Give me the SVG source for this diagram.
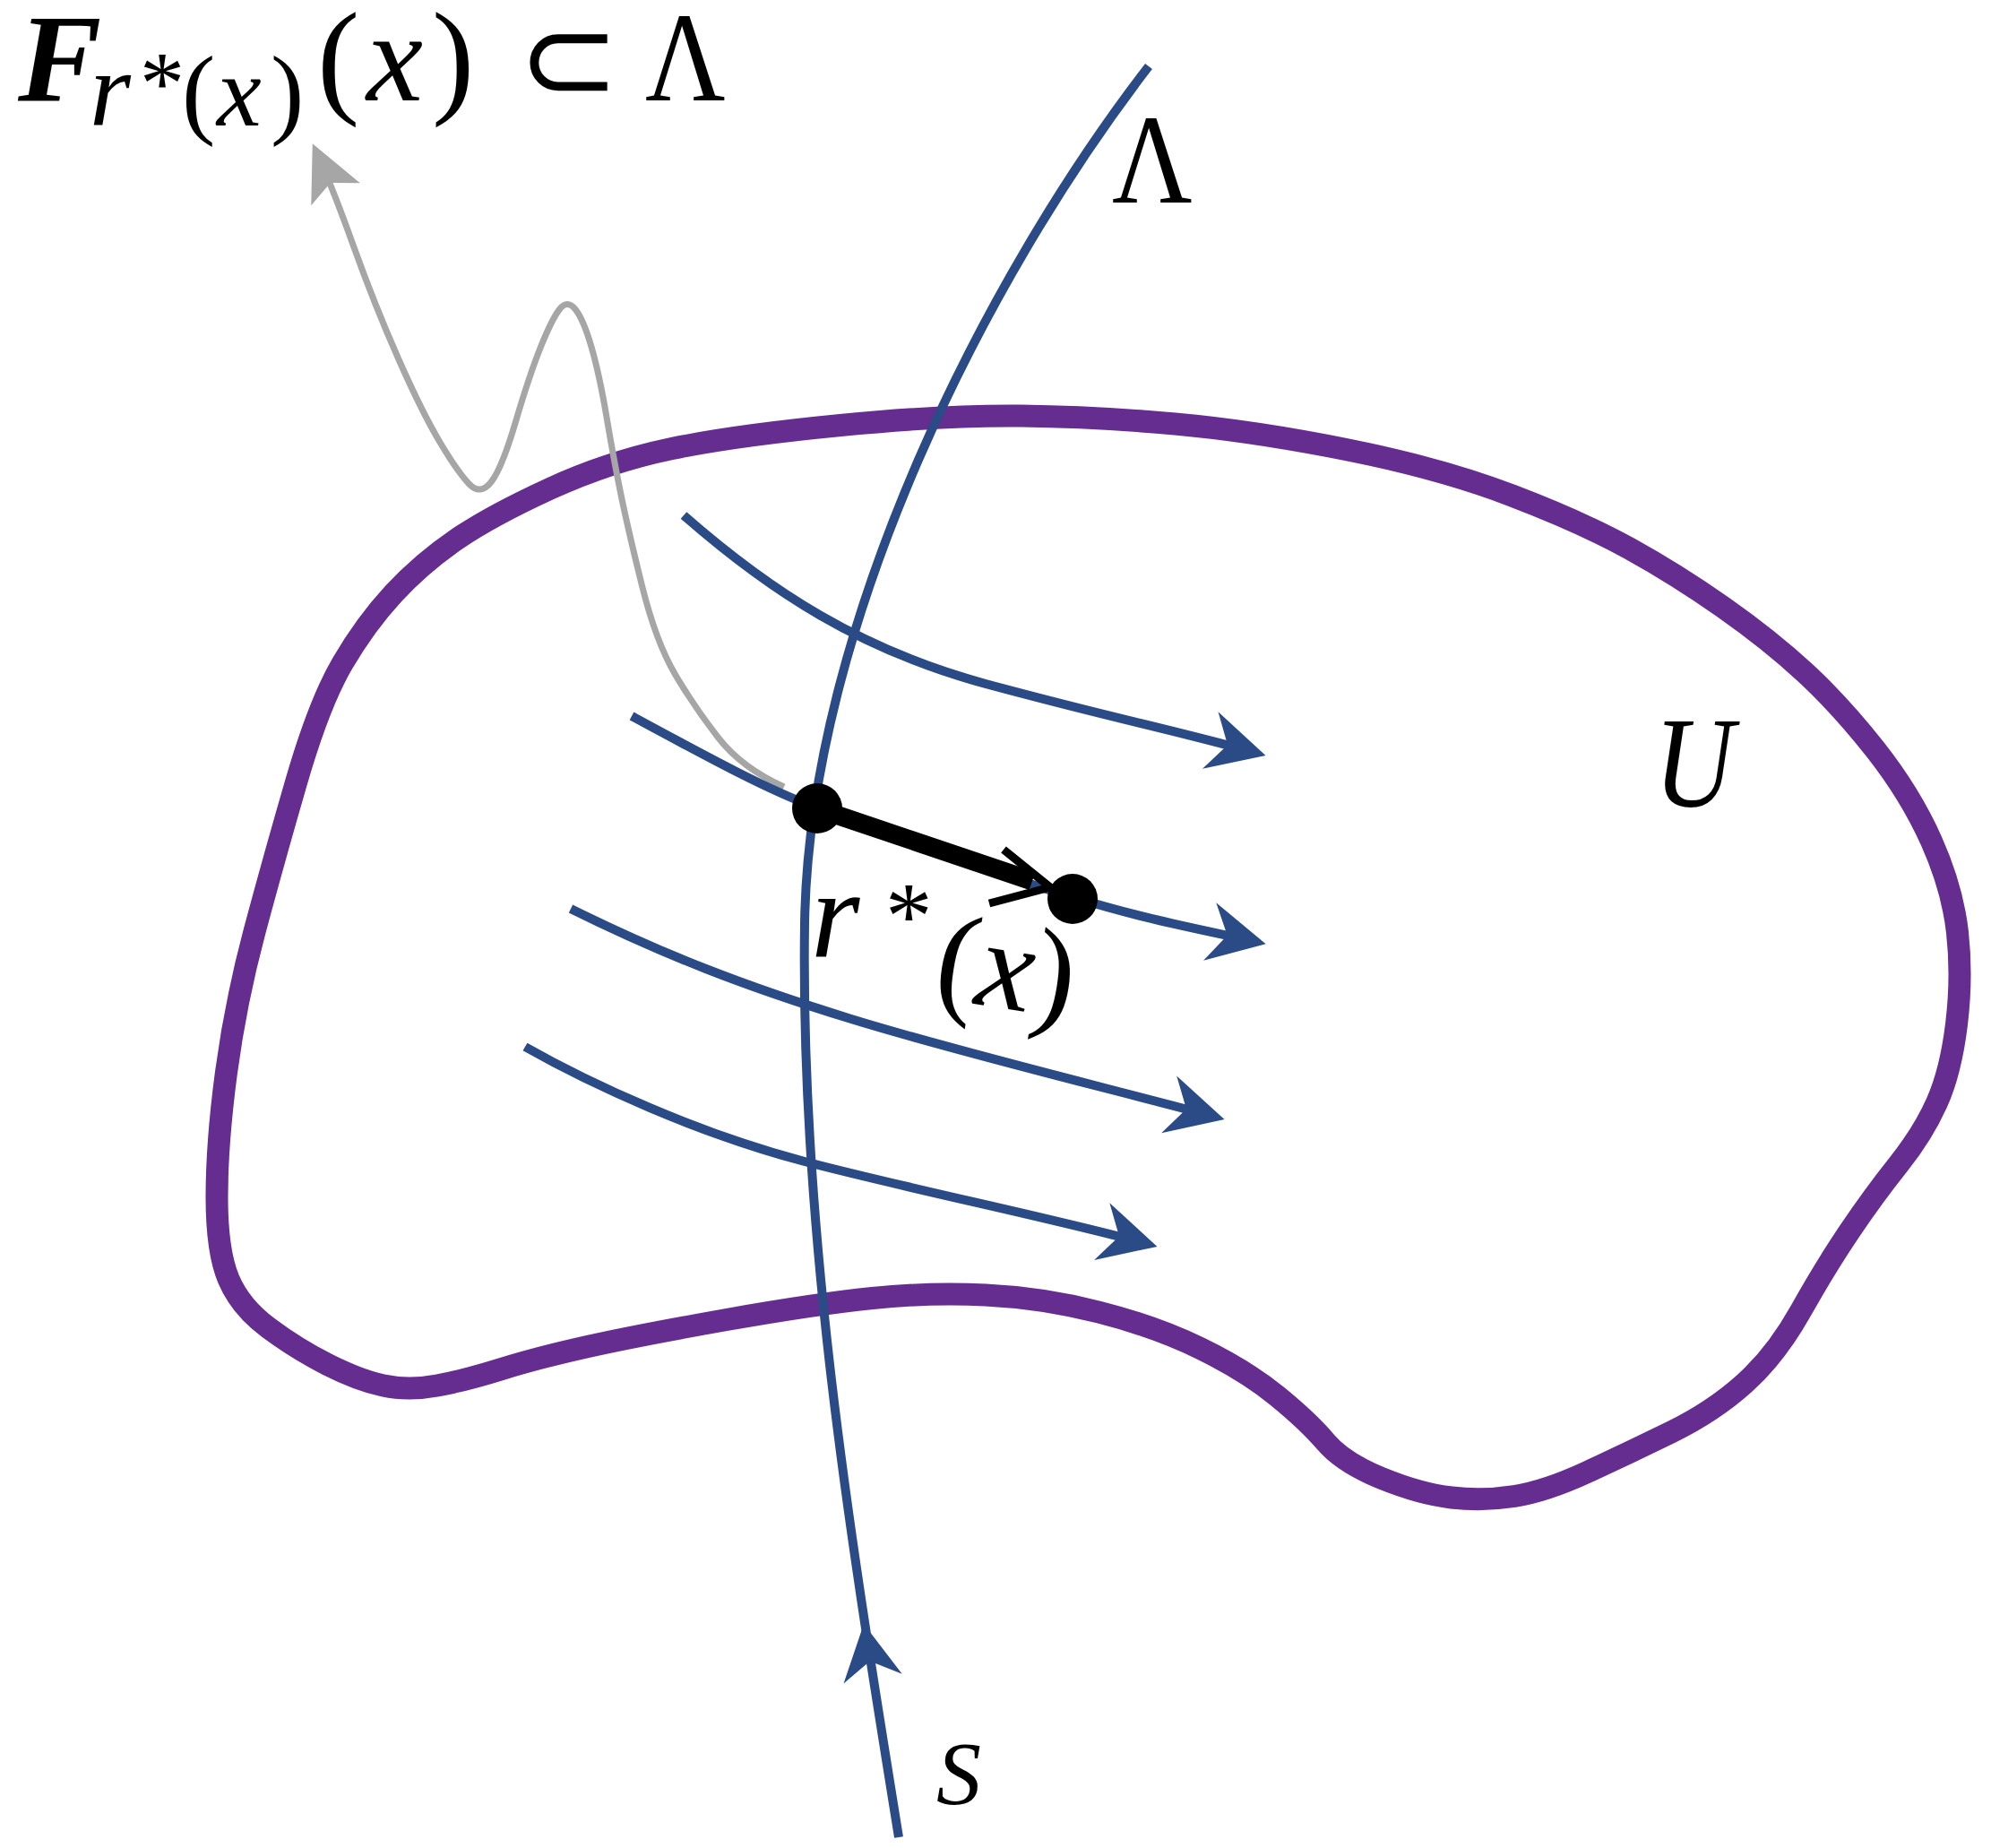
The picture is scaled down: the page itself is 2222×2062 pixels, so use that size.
<svg xmlns="http://www.w3.org/2000/svg" width="2222" height="2062" viewBox="0 0 2222 2062">
<defs>
<style>
.t{font-family:"Liberation Serif","DejaVu Serif",serif;fill:#000}
.it{font-style:italic}
.blue{fill:none;stroke:#2B4B86;stroke-width:10}
.purple{fill:none;stroke:#652D90;stroke-width:25;stroke-linejoin:round}
.gray{fill:none;stroke:#A6A6A6;stroke-width:7}
</style>
<marker id="mb" markerUnits="userSpaceOnUse" orient="auto" overflow="visible" refX="0" refY="0" markerWidth="1" markerHeight="1">
<path d="M15,0 L-49,-33 L-29,0 L-49,33 Z" fill="#2B4B86"/>
</marker>
<marker id="mg" markerUnits="userSpaceOnUse" orient="auto" overflow="visible" refX="0" refY="0" markerWidth="1" markerHeight="1">
<path d="M15,0 L-47,-30 L-33,0 L-47,30 Z" fill="#A6A6A6"/>
</marker>
</defs>
<rect width="2222" height="2062" fill="#fff"/>

<g id="region-U">
<path class="purple" d="M 255,1427 Q 268,1458 299.5,1481.5 Q 331,1505 365.5,1522.5 Q 400,1540 428,1546 Q 456,1552 488,1546 Q 520,1540 560,1527.5 Q 600,1515 656,1502.5 Q 712,1490 811,1472.5 Q 910,1455 973.5,1448.5 Q 1037,1442 1100,1445 Q 1163,1448 1226,1464 Q 1289,1480 1339.5,1504.5 Q 1390,1529 1425,1557.5 Q 1460,1586 1479.5,1609 Q 1499,1632 1542,1649.5 Q 1585,1667 1620,1671 Q 1655,1675 1690,1669.5 Q 1725,1664 1771.5,1642.5 Q 1818,1621 1865,1598 Q 1912,1575 1947,1543.5 Q 1982,1512 2009.5,1463 Q 2037,1414 2064,1374 Q 2091,1334 2118.5,1299.5 Q 2146,1265 2161.5,1230.5 Q 2177,1196 2183.5,1143 Q 2190,1090 2184.5,1040.5 Q 2179,991 2155.5,938.5 Q 2132,886 2093,836.5 Q 2054,787 2014.5,750.5 Q 1975,714 1923,677.5 Q 1871,641 1818.5,612 Q 1766,583 1687.5,553 Q 1609,523 1504.5,502 Q 1400,481 1311.5,473 Q 1223,465 1139.5,464 Q 1056,463 938,474.5 Q 820,486 750,500.5 Q 680,515 614.5,545 Q 549,575 510,601.5 Q 471,628 439.5,662 Q 408,696 382,740.5 Q 356,785 330.5,873 Q 305,961 284,1039.5 Q 263,1118 252.5,1196.5 Q 242,1275 242,1335.5 Q 242,1396 255,1427 Z"/>
<text class="t it" transform="translate(1846,900) scale(0.85,1)" font-size="145">U</text>
</g>

<g id="connectors">
<path id="gray-arrow" class="gray" marker-end="url(#mg)" d="M 875,878 Q 828,857 801.5,823 Q 775,789 753.5,752.5 Q 732,716 716.5,653.5 Q 701,591 693,552 Q 685,513 677,465.5 Q 669,418 660,387 Q 651,356 642,345 Q 633,334 624.5,345 Q 616,356 603.5,387 Q 591,418 575.5,470.5 Q 560,523 548,538 Q 536,553 523.5,540 Q 511,527 491,493.5 Q 471,460 444.5,400 Q 418,340 394.5,274.5 Q 371,209 355,174"/>
<path id="curve-S" class="blue" d="M 1003,2050 C 948,1710 893,1370 898,1030 C 903,700 1099,311 1282,74"/>
<path d="M964,1812 L941.5,1878.6 L970.8,1853.5 L1006.7,1867.8 Z" fill="#2B4B86"/>
<path id="flow-1" class="blue" marker-end="url(#mb)" d="M 763,575 C 860,660 960,725 1100,763 S 1300,812 1398,839"/>
<path id="flow-2" class="blue" marker-end="url(#mb)" d="M 705,799 C 790,845 860,883 911,901 C 1000,935 1110,975 1197,1001 S 1330,1035 1398,1050"/>
<path id="flow-3" class="blue" marker-end="url(#mb)" d="M 637,1014 C 740,1065 830,1100 950,1137 S 1240,1215 1352,1245"/>
<path id="flow-4" class="blue" marker-end="url(#mb)" d="M 586,1168 C 660,1210 780,1265 898,1296 S 1170,1358 1277,1387"/>
<g id="r-arrow">
<line x1="912" y1="902" x2="1152" y2="983" stroke="#000" stroke-width="21"/>
<polyline points="1120,948 1172,990 1104,1008" fill="none" stroke="#000" stroke-width="9" stroke-linejoin="miter"/>
</g>
</g>

<g id="point-x">
<circle cx="912" cy="902" r="28" fill="#000"/>
</g>
<g id="point-flow">
<circle cx="1197" cy="1003" r="28" fill="#000"/>
</g>

<g id="label-r">
<text class="t it" x="905" y="1067" font-size="140">r</text>
<text class="t" x="988" y="1058" font-size="105">*</text>
<text class="t" x="1122" y="1125" font-size="140" text-anchor="middle" transform="rotate(9 1122 1090)">(<tspan class="it">x</tspan>)</text>
</g>

<g id="label-Lambda">
<text class="t" transform="translate(1241,226) scale(0.87,1)" font-size="142">Λ</text>
</g>

<g id="label-S">
<text class="t it" x="1045" y="2012" font-size="100">S</text>
</g>

<g id="label-formula">
<text class="t it" x="20" y="112" font-size="140" font-weight="bold">F</text>
<text class="t it" x="100" y="140" font-size="118">r</text>
<text class="t" x="156" y="126" font-size="100">*</text>
<text class="t" y="140" font-size="112"><tspan x="203">(</tspan><tspan class="it" x="242">x</tspan><tspan x="302">)</tspan></text>
<text class="t" y="112" font-size="142"><tspan x="354">(</tspan><tspan class="it" x="409">x</tspan><tspan x="482">)</tspan></text>
<text x="578" y="112" font-size="135" font-family="'DejaVu Sans',sans-serif" font-weight="200">⊂</text>
<text class="t" transform="translate(720,112) scale(0.87,1)" font-size="142">Λ</text>
</g>
</svg>
